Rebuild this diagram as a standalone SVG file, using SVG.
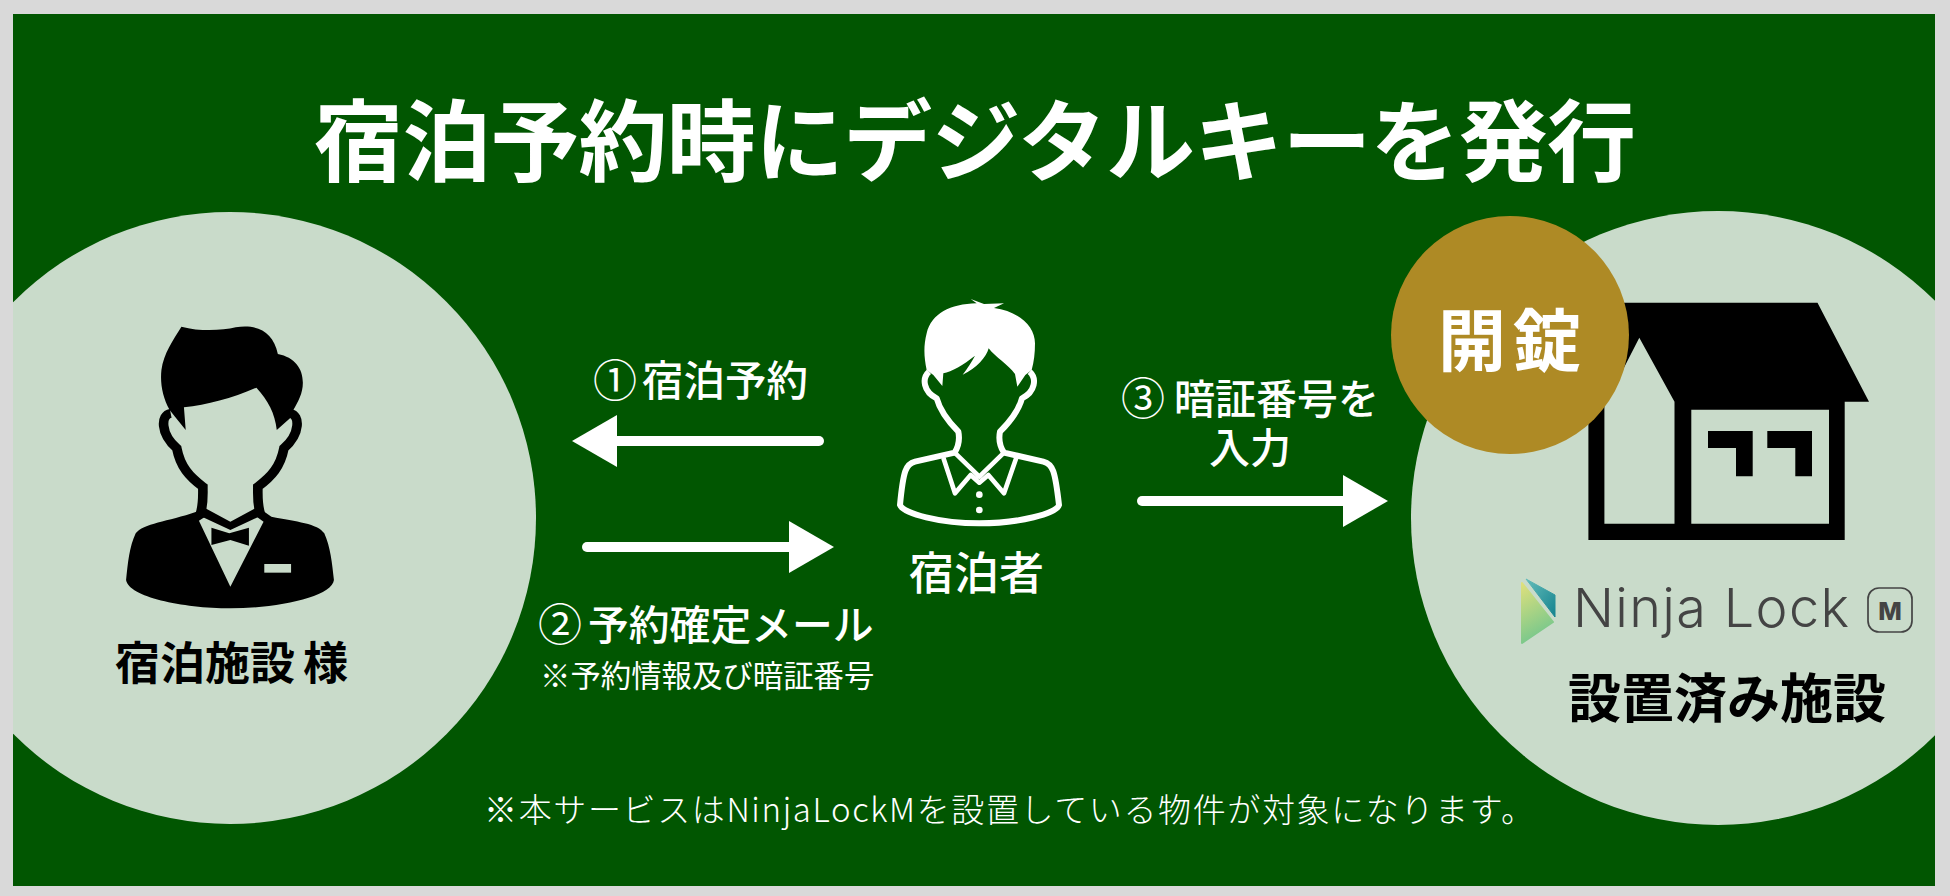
<svg xmlns="http://www.w3.org/2000/svg" width="1950" height="896" viewBox="0 0 1950 896">
<style>
text{font-family:"Noto Sans CJK JP","Noto Sans",sans-serif;}
.w{fill:#fff}.k{fill:#000}
.b{font-weight:700}.m{font-weight:500}
.arrow{stroke:#fff;stroke-width:10;stroke-linecap:round;fill:none;marker-end:url(#head)}
</style>
<defs>
<marker id="head" markerUnits="userSpaceOnUse" markerWidth="50" markerHeight="56" refX="0" refY="28" orient="auto"><path d="M0,2 L45,28 L0,54Z" fill="#fff"/></marker>
<clipPath id="panel"><rect x="13" y="14" width="1922" height="872"/></clipPath>
<linearGradient id="lg1" x1="0" y1="0" x2="0.3" y2="1"><stop offset="0" stop-color="#dfe07c"/><stop offset="1" stop-color="#76c78c"/></linearGradient>
<linearGradient id="lg2" x1="0" y1="0" x2="1" y2="1"><stop offset="0" stop-color="#63bcb9"/><stop offset="1" stop-color="#15838f"/></linearGradient>
</defs>
<rect width="1950" height="896" fill="#d9d9d9"/>
<rect x="13" y="14" width="1922" height="872" fill="#015601"/>
<text id="title" class="w b" x="314" y="174" font-size="89" textLength="1322" lengthAdjust="spacing">宿泊予約時にデジタルキーを発行</text>

<g id="facility" clip-path="url(#panel)">
<circle cx="230" cy="518" r="306" fill="#c9dbca"/>
<g transform="translate(0,200) scale(.35714,.33333)">
<path class="k" d="M508,380 C560,395 620,392 660,382 C720,372 765,395 778,462 C825,472 848,505 848,548 C848,580 835,605 820,632 L812,655 L775,690 C770,640 750,600 718,563 C650,595 580,615 515,622 L520,690 L490,650 L475,630 C455,590 448,550 452,510 C458,460 485,420 508,380Z"/>
<path d="M478,640 C450,645 448,700 495,745 C505,800 530,830 568,860 C568,890 570,915 560,945 M812,640 C840,645 842,700 795,745 C785,800 760,830 722,860 C722,890 720,915 730,945" fill="none" stroke="#000" stroke-width="27"/>
<path class="k" d="M550,935 L645,990 L740,935 L760,950 C830,965 890,970 908,1000 C925,1040 930,1090 935,1140 C930,1190 780,1225 645,1225 C510,1225 360,1190 353,1140 C358,1090 362,1040 380,1000 C400,970 470,965 550,935Z"/>
<path d="M557,962 L582,945 L645,988 L712,945 L738,965 L645,1160Z" fill="#c9dbca"/>
<path class="k" d="M575,925 L645,965 L715,925 L735,945 L645,990 L555,945Z"/>
<path class="k" d="M592,983 L642,1000 L697,983 L697,1037 L645,1020 L592,1035Z"/>
<rect x="740" y="1092" width="75" height="26" fill="#c9dbca"/>
</g>
<text class="k b" x="115" y="680" font-size="45">宿泊施設</text>
<text class="k b" x="303" y="680" font-size="45">様</text>
</g>

<g id="guest">
<g transform="translate(880,290) scale(.33333)">
<path class="w" d="M272,27 L312,42 L372,40 L342,54 C420,65 465,110 465,160 C465,190 462,215 455,240 L436,255 L412,290 L405,252 C385,225 345,200 326,175 C320,200 290,235 248,254 C265,232 275,215 285,197 C250,225 215,245 190,250 L187,288 L160,255 L140,240 C132,200 130,170 140,130 C155,70 210,42 290,40Z"/>
<path d="M147,245 C125,265 130,305 170,325 C178,355 200,390 235,425 C240,450 235,470 224,488 L105,515 C78,522 70,540 60,645 C70,670 180,700 298,700 C420,700 530,670 537,645 C525,540 518,522 490,515 L372,488 C360,470 355,450 360,425 C395,390 418,355 426,325 C466,305 471,265 449,245" fill="none" stroke="#fff" stroke-width="18" stroke-linejoin="round"/>
<path d="M224,488 L298,560 L372,488 M190,503 L225,610 L272,555 L298,578 L325,555 L372,610 L410,500" fill="none" stroke="#fff" stroke-width="14" stroke-linejoin="round"/>
<circle class="w" cx="298" cy="614" r="10"/><circle class="w" cx="298" cy="660" r="10"/>
</g>
<text class="w m" x="909" y="590" font-size="45">宿泊者</text>
</g>

<g id="property" clip-path="url(#panel)">
<circle cx="1718" cy="518" r="307" fill="#c9dbca"/>
<path class="k" fill-rule="evenodd" d="M1600,302.700 H1817.500 L1869,401.700 H1844.700 V540 H1588.400 V380 L1600,302.700Z M1639.300,337.700 L1604.400,406 V523.700 H1674.500 V401.700Z M1691.300,409.700 V523.700 H1829 V409.700Z"/>
<path class="k" d="M1708,431 H1752.700 V476.300 H1736 V448 H1708Z"/>
<path class="k" d="M1767.300,431 H1812 V476.300 H1795.300 V448 H1767.300Z"/>
<g id="logo">
<path d="M1522,583 L1553,622 L1522,643Z" fill="url(#lg1)" stroke="url(#lg1)" stroke-width="2" stroke-linejoin="round"/>
<path d="M1526,579 L1555,595 L1555,617Z" fill="url(#lg2)" stroke="url(#lg2)" stroke-width="1" stroke-linejoin="round"/>
<text x="1573" y="627" font-size="54" style="font-family:Inter,'Noto Sans',sans-serif;font-weight:300" fill="#444" textLength="276" lengthAdjust="spacing">Ninja Lock</text>
<rect x="1868" y="588" width="44" height="44" rx="11" fill="none" stroke="#444" stroke-width="1.700"/>
<text x="1890" y="620" font-size="25" text-anchor="middle" style="font-family:Inter,'Noto Sans',sans-serif;font-weight:800" fill="#444">M</text>
</g>
<text class="k b" x="1568" y="718" font-size="53">設置済み施設</text>
</g>

<g id="unlock">
<circle cx="1510" cy="335" r="119" fill="#ae8a25"/>
<text class="w b" x="1438" y="366" font-size="68" textLength="143" lengthAdjust="spacing">開錠</text>
</g>

<g id="connectors">
<line class="arrow" x1="819" y1="441" x2="617" y2="441"/>
<line class="arrow" x1="587" y1="547" x2="789" y2="547"/>
<line class="arrow" x1="1142" y1="501" x2="1343" y2="501"/>
</g>

<g id="labels">
<text class="w" font-size="44" x="593" y="397">①</text>
<text class="w m" x="642" y="396" font-size="41.500">宿泊予約</text>
<text class="w" font-size="44" x="538" y="641">②</text>
<text class="w m" x="588" y="640" font-size="40.800">予約確定メール</text>
<text class="w" x="540" y="687" font-size="30.400">※予約情報及び暗証番号</text>
<text class="w m" font-size="41"><tspan x="1121" y="415" font-size="44" font-weight="400">③</tspan><tspan x="1174" y="414">暗証番号を</tspan><tspan x="1209" y="463">入力</tspan></text>
<text id="note" class="w" x="484" y="822" font-size="33" font-weight="300" textLength="1050" lengthAdjust="spacing">※本サービスはNinjaLockMを設置している物件が対象になります。</text>
</g>
</svg>
